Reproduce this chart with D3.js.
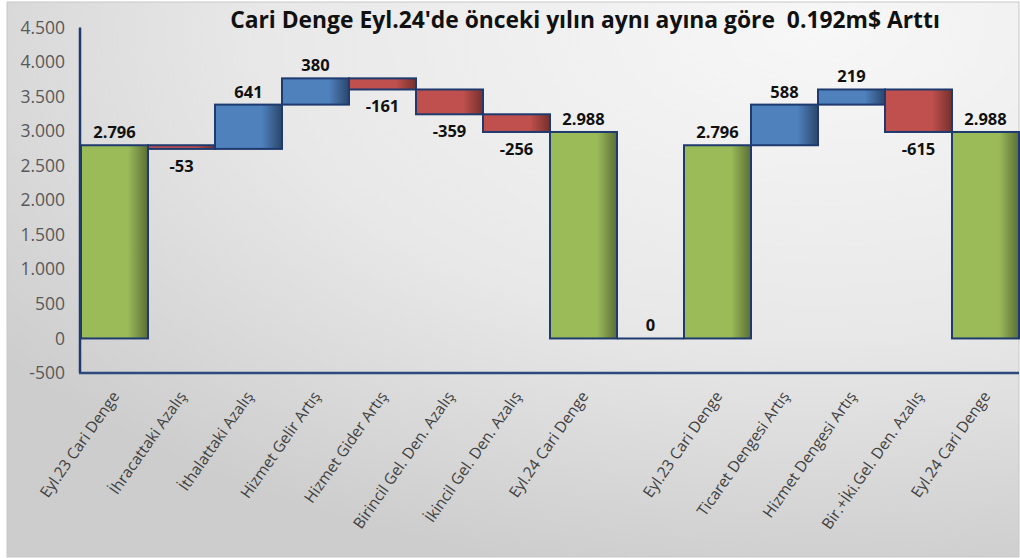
<!DOCTYPE html>
<html>
<head>
<meta charset="utf-8">
<script src="https://cdn.jsdelivr.net/npm/d3@7/dist/d3.min.js"></script>
<style>
  body { margin: 0; background: #fff; }
  svg { display: block; }
</style>
</head>
<body>
<script>
// chart data
var categories = ["Eyl.23 Cari Denge", "İhracattaki Azalış", "İthalattaki Azalış", "Hizmet Gelir Artış",
  "Hizmet Gider Artış", "Birincil Gel. Den. Azalış", "İkincil Gel. Den. Azalış", "Eyl.24 Cari Denge",
  "", "Eyl.23 Cari Denge", "Ticaret Dengesi Artış", "Hizmet Dengesi Artış",
  "Bir.+İki.Gel. Den. Azalış", "Eyl.24 Cari Denge"];
var values = [2796, -53, 641, 380, -161, -359, -256, 2988, 0, 2796, 588, 219, -615, 2988];
var kinds = ["total", "delta", "delta", "delta", "delta", "delta", "delta", "total",
  "gap", "total", "delta", "delta", "delta", "total"];
var yTicks = [-500, 0, 500, 1000, 1500, 2000, 2500, 3000, 3500, 4000, 4500];
var title = "Cari Denge Eyl.24'de önceki yılın aynı ayına göre  0.192m$ Arttı";

var width = 1020, height = 558;
var pLeft = 81, pRight = 1019, pTop = 27.5, pBottom = 373;
var navy = "#1f3a6e";

var loc = d3.formatLocale({thousands: ".", decimal: ",", grouping: [3], currency: ["", ""], minus: "-"});
var fmt = loc.format(",d");

// running totals for the waterfall
var cum = 0;
var bars = values.map(function(v, i) {
  var k = kinds[i], b;
  if (k == "total") { b = {y0: 0, y1: v}; cum = v; }
  else if (k == "gap") { b = {y0: 0, y1: 0}; }
  else { b = {y0: cum, y1: cum + v}; cum = cum + v; }
  b.v = v; b.i = i; b.kind = k;
  return b;
});

var svg = d3.select("body").append("svg")
  .attr("width", width).attr("height", height);

var defs = svg.append("defs");
var bg = defs.append("radialGradient").attr("id", "bg")
  .attr("cx", "0.8").attr("cy", "0.05").attr("r", "1.0");
bg.append("stop").attr("offset", "0").attr("stop-color", "#f7f7f7");
bg.append("stop").attr("offset", "0.55").attr("stop-color", "#e8e8e8");
bg.append("stop").attr("offset", "1").attr("stop-color", "#cdcdcd");

function barGrad(id, c, dark) {
  var g = defs.append("linearGradient").attr("id", id)
    .attr("x1", "0").attr("x2", "1").attr("y1", "0").attr("y2", "0");
  g.append("stop").attr("offset", "0").attr("stop-color", c);
  g.append("stop").attr("offset", "0.7").attr("stop-color", c);
  g.append("stop").attr("offset", "1").attr("stop-color", dark);
}
barGrad("gGreen", "#9bbb59", "#5a6e35");
barGrad("gBlue", "#4f81bd", "#2a466b");
barGrad("gRed", "#c0504d", "#76302d");

svg.append("rect").attr("x", 7).attr("y", 2).attr("width", 1012).attr("height", 555)
  .attr("fill", "url(#bg)").attr("stroke", "#c8c8c8").attr("stroke-width", 1);

var x = d3.scaleBand().domain(d3.range(categories.length)).range([pLeft, pRight]).padding(0);
var y = d3.scaleLinear().domain([-500, 4500]).range([pBottom, pTop]);

// y axis labels
var yAxis = d3.axisLeft(y).tickValues(yTicks).tickFormat(fmt).tickSize(0).tickPadding(15);
var ya = svg.append("g").attr("transform", "translate(" + (pLeft - 1) + ",0)").call(yAxis);
ya.select(".domain").remove();
ya.selectAll("text").style("font-family", "'Open Sans', sans-serif").style("font-size", "17.5px")
  .attr("fill", "#595959");

// bars
svg.selectAll(".bar").data(bars.filter(function(d) { return d.kind != "gap"; })).enter().append("rect")
  .attr("class", "bar")
  .attr("x", function(d) { return x(d.i); })
  .attr("width", x.bandwidth())
  .attr("y", function(d) { return y(Math.max(d.y0, d.y1)); })
  .attr("height", function(d) { return Math.abs(y(d.y0) - y(d.y1)); })
  .attr("fill", function(d) {
    if (d.kind == "total") return "url(#gGreen)";
    return d.v >= 0 ? "url(#gBlue)" : "url(#gRed)";
  })
  .attr("stroke", navy).attr("stroke-width", 2);

// the empty gap column shows as a flat line at zero
svg.selectAll(".gap").data(bars.filter(function(d) { return d.kind == "gap"; })).enter().append("line")
  .attr("class", "gap")
  .attr("x1", function(d) { return x(d.i); })
  .attr("x2", function(d) { return x(d.i) + x.bandwidth(); })
  .attr("y1", function(d) { return y(d.y0); })
  .attr("y2", function(d) { return y(d.y0); })
  .attr("stroke", navy).attr("stroke-width", 2);

// axes lines
svg.append("line").attr("x1", pLeft - 1).attr("x2", pLeft - 1).attr("y1", y(4500)).attr("y2", pBottom)
  .attr("stroke", navy).attr("stroke-width", 2.5);
svg.append("line").attr("x1", pLeft - 2).attr("x2", pRight).attr("y1", pBottom).attr("y2", pBottom)
  .attr("stroke", "#2d4a7c").attr("stroke-width", 2.5);

// value labels
svg.selectAll(".val").data(bars).enter().append("text")
  .attr("class", "val")
  .attr("x", function(d) { return x(d.i) + x.bandwidth() / 2; })
  .attr("y", function(d) {
    if (d.kind == "delta" && d.v < 0) return y(Math.min(d.y0, d.y1)) + 23;
    return y(Math.max(d.y0, d.y1)) - 7;
  })
  .attr("text-anchor", "middle")
  .style("font-family", "'Open Sans', sans-serif").style("font-size", "16.5px").style("font-weight", "bold")
  .attr("fill", "#111")
  .text(function(d) { return fmt(d.v); });

// category labels
svg.selectAll(".cat").data(categories).enter().append("text")
  .attr("class", "cat")
  .attr("transform", function(d, i) {
    return "translate(" + (x(i) + x.bandwidth() / 2 + 1) + "," + (pBottom + 20) + ") rotate(-55)";
  })
  .attr("text-anchor", "end")
  .attr("dy", "0.35em")
  .style("font-family", "'Open Sans', sans-serif").style("font-size", "15.5px")
  .attr("fill", "#404040")
  .text(function(d) { return d; });

// title
var t = svg.append("text").attr("x", 585).attr("y", 28).attr("text-anchor", "middle")
  .style("font-family", "'Open Sans', sans-serif").style("font-size", "20px").style("font-weight", "bold")
  .attr("fill", "#111").attr("xml:space", "preserve").style("white-space", "pre")
  .text(title);
var tw = t.node().getComputedTextLength();
t.style("font-size", (20 * 710 / tw) + "px");
</script>
</body>
</html>
